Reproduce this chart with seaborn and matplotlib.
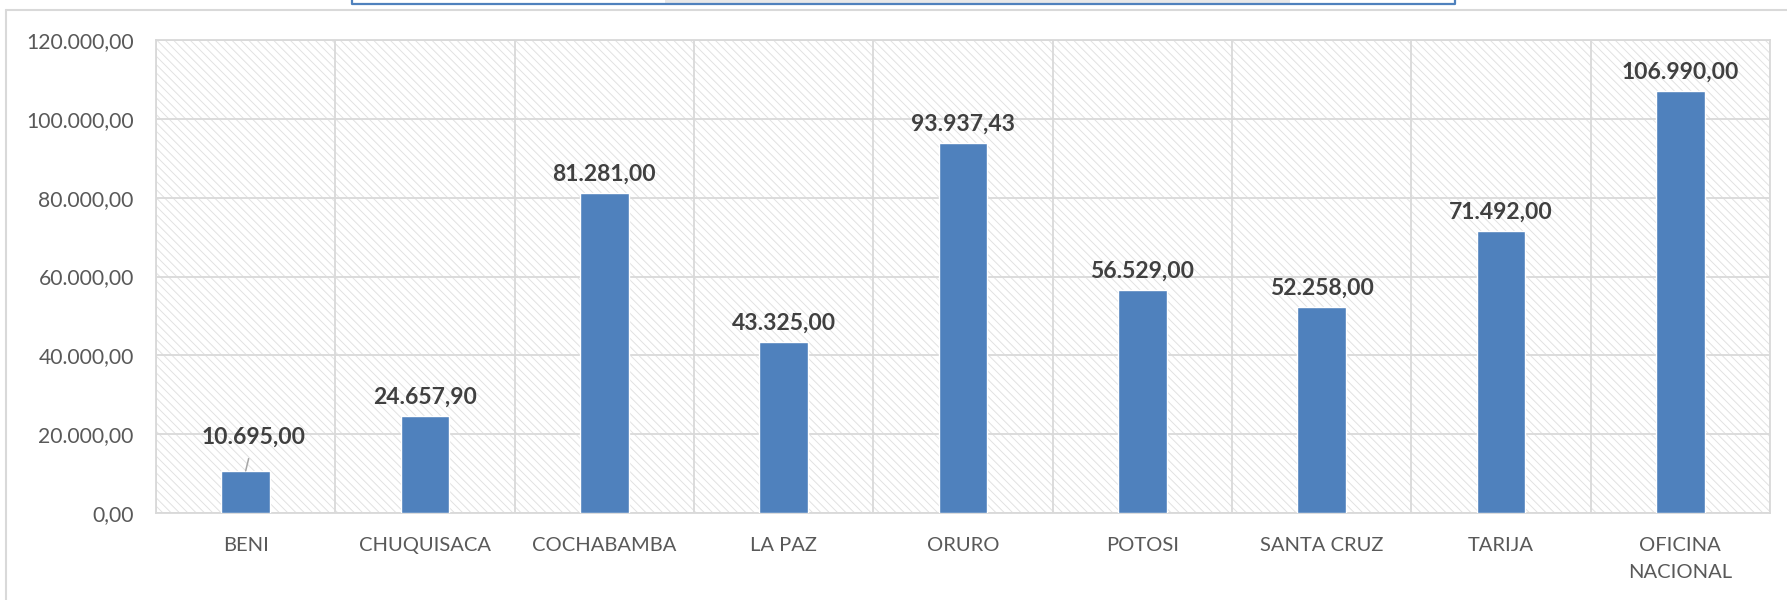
import matplotlib
matplotlib.use("Agg")
import matplotlib.pyplot as plt
import seaborn as sns
from matplotlib.patches import Rectangle
from matplotlib.lines import Line2D

departamentos = ["BENI", "CHUQUISACA", "COCHABAMBA", "LA PAZ", "ORURO",
                 "POTOSI", "SANTA CRUZ", "TARIJA", "OFICINA\nNACIONAL"]
montos = [10695.00, 24657.90, 81281.00, 43325.00, 93937.43,
          56529.00, 52258.00, 71492.00, 106990.00]
y_ticks = [0, 20000, 40000, 60000, 80000, 100000, 120000]


def fmt_es(v):
    s = f"{v:,.2f}"
    return s.replace(",", "X").replace(".", ",").replace("X", ".")


sns.set_theme(style="white")
plt.rcParams["font.family"] = ["Lato", "DejaVu Sans"]
plt.rcParams["hatch.linewidth"] = 0.7

W, H = 1787, 600
fig = plt.figure(figsize=(W / 100, H / 100), dpi=100)
ax = fig.add_axes([156 / W, 1 - 513 / H, (1770 - 156) / W, (513 - 40) / H])

grid_col = "#D9D9D9"
ax.set_facecolor("white")
ax.patch.set_hatch("\\\\\\\\")
ax.patch.set_edgecolor("#E2E2E2")
ax.patch.set_linewidth(0)

sns.barplot(x=departamentos, y=montos, color="#4F81BD", width=0.27,
            saturation=1, ax=ax, zorder=3)

ax.set_ylim(0, 120000)
ax.set_xlim(-0.5, len(departamentos) - 0.5)
ax.set_yticks(y_ticks)
ax.set_yticklabels([fmt_es(t) for t in y_ticks], fontsize=15.2, color="#595959")
ax.set_xticks(range(len(departamentos)))
ax.set_xticklabels(departamentos, fontsize=14.5, color="#595959", linespacing=1.75)
ax.tick_params(axis="x", length=0, pad=17)
ax.tick_params(axis="y", length=0, pad=16)
ax.set_xlabel("")
ax.set_ylabel("")

# grid lines: horizontal at ticks, vertical at category boundaries
for t in y_ticks:
    ax.axhline(t, color=grid_col, lw=1.3, zorder=1)
for i in range(len(departamentos) + 1):
    ax.axvline(i - 0.5, color=grid_col, lw=1.3, zorder=1)
for sp in ax.spines.values():
    sp.set_color(grid_col)
    sp.set_linewidth(1.3)

# data labels (BENI's is lifted, with a leader line)
for i, v in enumerate(montos):
    if i == 0:
        ax.annotate(fmt_es(v), xy=(i, v), xytext=(6, 17), textcoords="offset points",
                    ha="center", va="bottom", fontsize=16.5, fontweight="bold",
                    color="#404040", zorder=4,
                    arrowprops=dict(arrowstyle="-", color="#A6A6A6", lw=1.1,
                                    shrinkA=6, shrinkB=0))
    else:
        ax.annotate(fmt_es(v), xy=(i, v), xytext=(0, 6), textcoords="offset points",
                    ha="center", va="bottom", fontsize=16.5, fontweight="bold",
                    color="#404040", zorder=4)

# chart frame and clipped title box at the top
fig.add_artist(Line2D([6 / W, 1], [1 - 10 / H, 1 - 10 / H],
                      transform=fig.transFigure, color="#D9D9D9", lw=1.5))
fig.add_artist(Line2D([6 / W, 6 / W], [0, 1 - 10 / H],
                      transform=fig.transFigure, color="#D9D9D9", lw=1.5))
fig.add_artist(Rectangle((665 / W, 1 - 3 / H), (1290 - 665) / W, 3 / H,
                         transform=fig.transFigure, facecolor="#E8E8E8",
                         edgecolor="none"))
fig.add_artist(Line2D([352 / W, 352 / W, 1455 / W, 1455 / W],
                      [1, 1 - 4 / H, 1 - 4 / H, 1],
                      transform=fig.transFigure, color="#4F81BD", lw=1.6))

fig.savefig("out.png", dpi=100)
